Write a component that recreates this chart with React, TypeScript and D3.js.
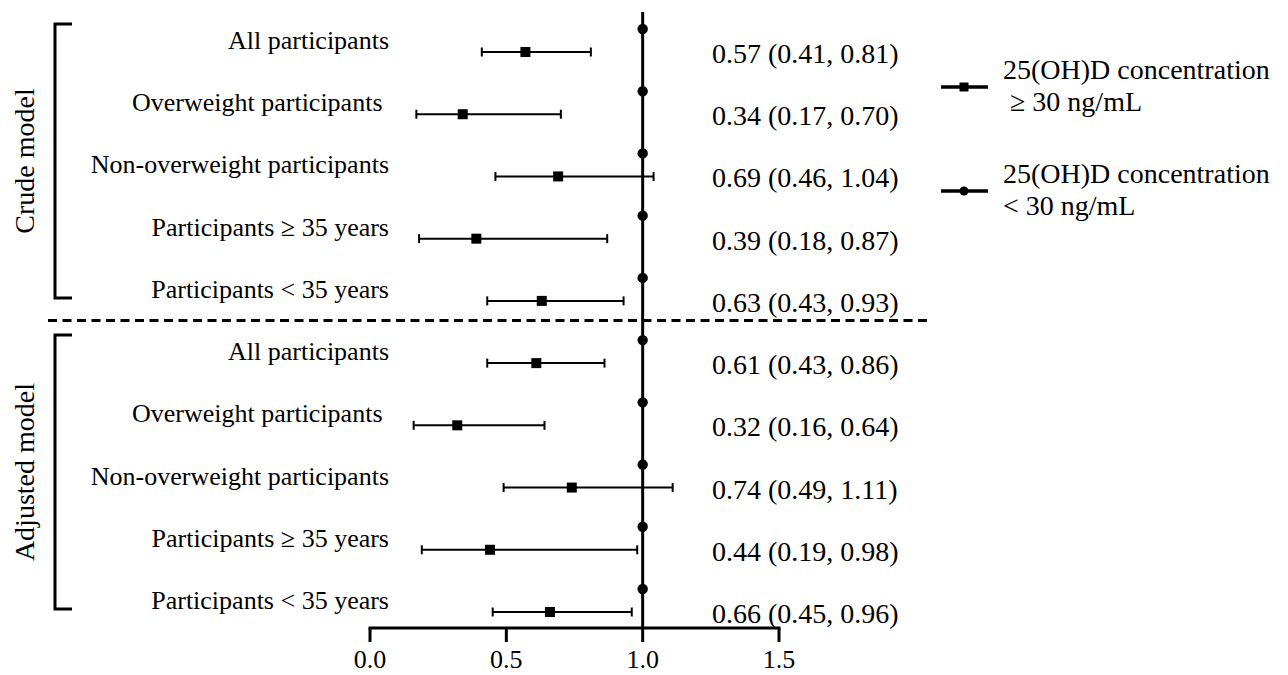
import React from 'react';
import * as d3 from 'd3';

// subgroup rows (same for both models)
const groups = [
  'All participants',
  'Overweight participants ',
  'Non-overweight participants',
  'Participants ≥ 35 years',
  'Participants < 35 years',
];
const models = ['Crude model', 'Adjusted model'];

// odds ratios, 25(OH)D >= 30 ng/mL vs < 30 ng/mL (reference = 1)
const crudeOR = [0.57, 0.34, 0.69, 0.39, 0.63];
const crudeLow = [0.41, 0.17, 0.46, 0.18, 0.43];
const crudeHigh = [0.81, 0.70, 1.04, 0.87, 0.93];
const adjOR = [0.61, 0.32, 0.74, 0.44, 0.66];
const adjLow = [0.43, 0.16, 0.49, 0.19, 0.45];
const adjHigh = [0.86, 0.64, 1.11, 0.98, 0.96];
const refOR = 1.0;

const xTicks = [0, 0.5, 1.0, 1.5];
const legendItems = [
  ['25(OH)D concentration', ' ≥ 30 ng/mL'],
  ['25(OH)D concentration', '< 30 ng/mL'],
];

const W = 1288;
const H = 675;
const FONT = '"Liberation Serif", "Times New Roman", serif';

export default function App() {
  const x = d3.scaleLinear().domain([0, 1.5]).range([370, 779]);
  const y = d3.scaleLinear().domain([0, 9]).range([52, 612]);
  const refOffset = 23;

  const rows = [
    ...groups.map((g, i) => ({ label: g, or: crudeOR[i], lo: crudeLow[i], hi: crudeHigh[i], model: 0 })),
    ...groups.map((g, i) => ({ label: g, or: adjOR[i], lo: adjLow[i], hi: adjHigh[i], model: 1 })),
  ];
  const fmt = d3.format('.2f');
  const axisY = 628;

  return (
    <svg width={W} height={H} style={{ position: 'absolute', left: 0, top: 0, background: '#fff' }} fontFamily={FONT}>
      {/* reference line at OR = 1 */}
      <line x1={x(refOR)} x2={x(refOR)} y1={12} y2={axisY} stroke="#000" strokeWidth={3} />

      {/* model separator */}
      <line x1={48} x2={932} y1={(y(4) + y(5) - refOffset) / 2} y2={(y(4) + y(5) - refOffset) / 2}
        stroke="#000" strokeWidth={3} strokeDasharray="9,5.5" />

      {/* model brackets + titles */}
      {models.map((m, k) => {
        const top = y(k * 5) - refOffset - 5;
        const bot = y(k * 5 + 4) - 3;
        return (
          <g key={m}>
            <path d={`M72,${top}H55V${bot}H72`} fill="none" stroke="#000" strokeWidth={3} />
            <text transform={`translate(34,${(top + bot) / 2}) rotate(-90)`} textAnchor="middle" fontSize={28}>{m}</text>
          </g>
        );
      })}

      {rows.map((r, i) => {
        const yy = y(i);
        return (
          <g key={i}>
            <text x={389} y={yy - 3} textAnchor="end" fontSize={26} style={{ whiteSpace: 'pre' }}>{r.label}</text>
            {/* reference group */}
            <circle cx={x(refOR)} cy={yy - refOffset} r={5.2} fill="#000" />
            {/* CI */}
            <line x1={x(r.lo)} x2={x(r.hi)} y1={yy} y2={yy} stroke="#000" strokeWidth={2} />
            <line x1={x(r.lo)} x2={x(r.lo)} y1={yy - 4.5} y2={yy + 4.5} stroke="#000" strokeWidth={2} />
            <line x1={x(r.hi)} x2={x(r.hi)} y1={yy - 4.5} y2={yy + 4.5} stroke="#000" strokeWidth={2} />
            <rect x={x(r.or) - 5} y={yy - 5} width={10} height={10} fill="#000" />
            <text x={712} y={yy + 11} fontSize={28}>{`${fmt(r.or)} (${fmt(r.lo)}, ${fmt(r.hi)})`}</text>
          </g>
        );
      })}

      {/* x axis */}
      <line x1={x(0) - 1.5} x2={x(1.5) + 1.5} y1={axisY} y2={axisY} stroke="#000" strokeWidth={3} />
      {xTicks.map(t => (
        <g key={t}>
          <line x1={x(t)} x2={x(t)} y1={axisY} y2={axisY + 14} stroke="#000" strokeWidth={3} />
          <text x={x(t)} y={668} textAnchor="middle" fontSize={26}>{d3.format('.1f')(t)}</text>
        </g>
      ))}

      {/* legend */}
      {legendItems.map((lines, k) => {
        const ly = 87 + k * 104;
        return (
          <g key={k}>
            <line x1={941} x2={988} y1={ly} y2={ly} stroke="#000" strokeWidth={3.5} />
            {k === 0
              ? <rect x={959.5} y={ly - 4.5} width={9} height={9} fill="#000" />
              : <circle cx={964} cy={ly} r={4.5} fill="#000" />}
            <text x={1003} y={ly - 8} fontSize={28}>{lines[0]}</text>
            <text x={1003} y={ly + 24} fontSize={28} style={{ whiteSpace: 'pre' }}>{lines[1]}</text>
          </g>
        );
      })}
    </svg>
  );
}
